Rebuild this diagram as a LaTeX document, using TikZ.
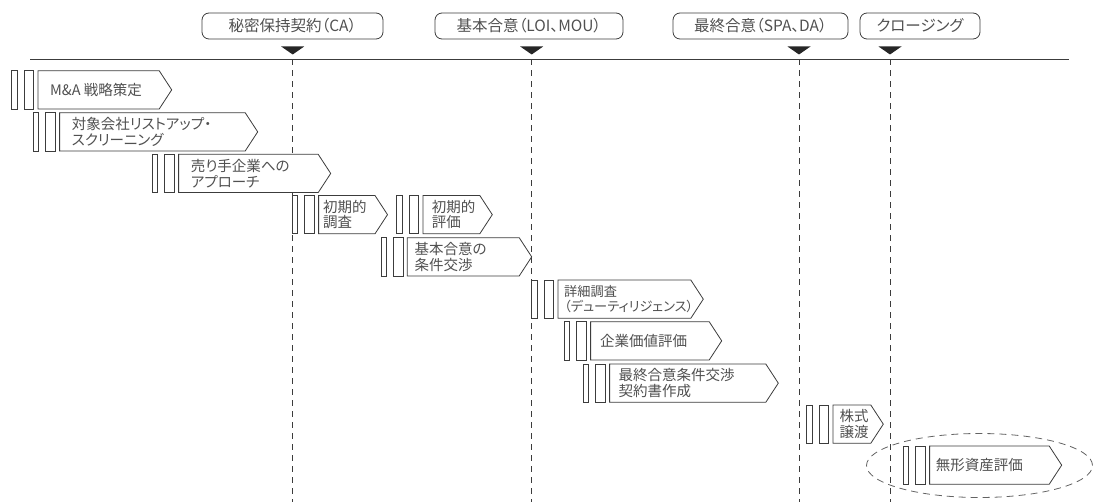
\documentclass[tikz,border=0pt]{standalone}
\usepackage{fontspec}
\setmainfont{Noto Sans CJK JP}[RawFeature=+palt]
\usetikzlibrary{calc}
\definecolor{ln}{HTML}{3C3C3C}
\definecolor{tx}{HTML}{505050}
\tikzset{
  bar/.style={draw=ln, line width=0.8pt, fill=white},
  arrowbox/.style={draw=ln, line width=0.8pt, fill=white, line join=miter},
  tasktext/.style={anchor=west, inner sep=0pt, align=left, text=tx, font=\fontsize{14.5}{15.6}\selectfont},
  milestone/.style={draw=ln, line width=0.8pt, rounded corners=7pt, minimum height=26pt, inner sep=0pt, text=tx, font=\fontsize{15.5}{16}\selectfont},
  mtri/.style={fill=black!85, draw=none},
  vdash/.style={draw=ln, line width=0.8pt, dash pattern=on 6pt off 5pt},
  oval/.style={draw=ln!80, line width=0.8pt, dash pattern=on 7pt off 5pt}
}
\newcommand\smalltx{\fontsize{13.2}{15.6}\selectfont}
\newcommand\mytask[6]{%
  \pgfmathsetmacro\ta{#2+5.5}%
  \pgfmathsetmacro\tb{#2+12.2}%
  \pgfmathsetmacro\tc{#2+22}%
  \pgfmathsetmacro\td{#2+26.3}%
  \pgfmathsetmacro\te{#4-12.5}%
  \pgfmathsetmacro\tf{#3+38.3}%
  \pgfmathsetmacro\tm{#3+19.15}%
  \draw[bar] (#2,#3) rectangle (\ta,\tf);
  \draw[bar] (\tb,#3) rectangle (\tc,\tf);
  \draw[arrowbox] (\td,#3) -- (\te,#3) -- (#4,\tm) -- (\te,\tf) -- (\td,\tf) -- cycle;
  \node[tasktext] (#1) at (#5,\tm) {#6};
}
\newcommand\mymile[2]{% name, x
  \coordinate (#1t) at (#2,54.5);
  \fill[mtri] (#2-11.5,46.5) -- (#2+11.5,46.5) -- (#1t) -- cycle;
  \coordinate (#1top) at (#2,59.5);
  \coordinate (#1bot) at (#2,502);
  \draw[vdash] (#1top) -- (#1bot);
}
\begin{document}
\begin{tikzpicture}[x=1pt,y=-1pt]
\useasboundingbox (0,0) rectangle (1093,502);
% milestone labels
\node[milestone, minimum width=181pt] (ca) at (292.5,26) {秘密保持契約（CA）};
\node[milestone, minimum width=188pt] (loi) at (529,26) {基本合意（LOI、MOU）};
\node[milestone, minimum width=175pt] (spa) at (760.5,26) {最終合意（SPA、DA）};
\node[milestone, minimum width=120pt] (cls) at (920,26) {クロージング};
% timeline
\coordinate (tl0) at (30,59.5);
\coordinate (tl1) at (1069,59.5);
\draw[draw=ln, line width=0.9pt] (tl0) -- (tl1);
\mymile{m1}{292.7}
\mymile{m2}{531.7}
\mymile{m3}{799}
\mymile{m4}{890}
% tasks
\mytask{r1}{11.7}{70.7}{171.7}{50}{M\&A 戦略策定}
\mytask{r2}{33.3}{112.7}{257.7}{71.7}{対象会社リストアップ・\\スクリーニング}
\mytask{r3}{152.3}{154.3}{330.7}{190.7}{売り手企業への\\アプローチ}
\mytask{r4}{292.3}{195.5}{387.5}{323}{初期的\\調査}
\mytask{r5}{396.7}{195.5}{492.3}{431.7}{初期的\\評価}
\mytask{r6}{381}{237.7}{531.7}{414.3}{基本合意の\\条件交渉}
\mytask{r7}{531.7}{280}{703.3}{564}{{\smalltx 詳細調査}\\{\smalltx （デューティリジェンス）}}
\mytask{r8}{564.3}{321.7}{721.7}{600}{企業価値評価}
\mytask{r9}{583.3}{364}{778.3}{618.3}{最終合意条件交渉\\契約書作成}
\mytask{r10}{806.7}{405}{883.3}{839.3}{株式\\譲渡}
\mytask{r11}{903.3}{446}{1061.7}{935.7}{無形資産評価}
% highlight ellipse
\draw[oval] (979.5,465.5) ellipse [x radius=113pt, y radius=32pt];
\end{tikzpicture}
\end{document}
